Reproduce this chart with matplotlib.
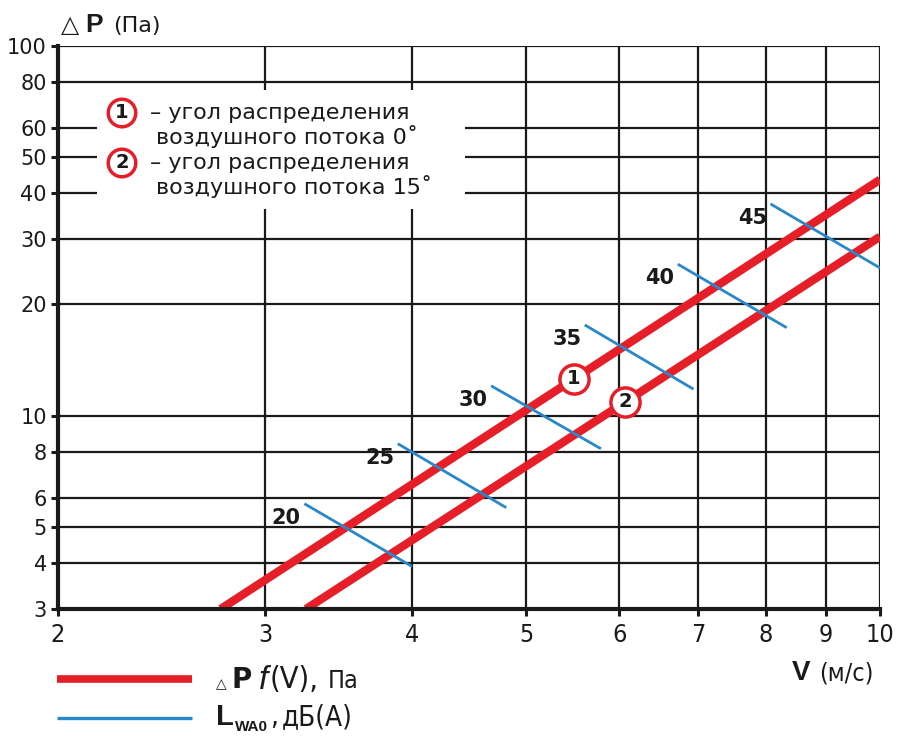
import matplotlib
matplotlib.use("Agg")
import matplotlib.pyplot as plt
from matplotlib import font_manager
from matplotlib.font_manager import FontProperties
from matplotlib.patches import Rectangle
from matplotlib.ticker import FixedLocator, FixedFormatter, NullLocator

# ---------------- data ----------------
x_ticks = [2, 3, 4, 5, 6, 7, 8, 9, 10]
y_ticks = [3, 4, 5, 6, 8, 10, 20, 30, 40, 50, 60, 80, 100]

# pressure drop lines (log-log straight lines)
line1_v = [2.75, 10.0]
line1_dp = [3.0, 43.5]
line2_v = [3.25, 10.0]
line2_dp = [3.0, 30.5]

# noise level segments (dB(A))
noise_levels = [20, 25, 30, 35, 40, 45]
noise_v_start = [3.24, 3.89, 4.67, 5.61, 6.73, 8.07]
noise_v_end = [4.00, 4.81, 5.79, 6.94, 8.33, 10.0]
noise_dp_start = [5.78, 8.40, 12.05, 17.6, 25.7, 37.4]
noise_dp_end = [3.91, 5.64, 8.14, 11.8, 17.3, 25.1]

# circled curve markers
marker_labels = ["1", "2"]
marker_v = [5.49, 6.07]
marker_dp = [12.6, 10.9]

legend_lines = ["– угол распределения", "воздушного потока 0˚",
                "– угол распределения", "воздушного потока 15˚"]

# ---------------- fonts ----------------
ttf = font_manager.fontManager.ttflist
names = {f.name for f in ttf}


def _is_bold(f):
    w = f.weight
    if isinstance(w, int):
        return w >= 600
    return "bold" in str(w).lower()


def pick_narrow(bold=False):
    for f in ttf:
        if f.name == "Liberation Sans Narrow" and f.style == "normal" and _is_bold(f) == bold:
            return f.fname
    for f in ttf:
        if f.name == "DejaVu Sans" and "condensed" in str(f.stretch) and f.style == "normal" \
                and _is_bold(f) == bold:
            return f.fname
    return None


narrow_path = pick_narrow(False)


def NP(size):
    if narrow_path:
        return FontProperties(fname=narrow_path, size=size)
    return FontProperties(family="DejaVu Sans", size=size)


sans = "Liberation Sans" if "Liberation Sans" in names else "DejaVu Sans"
HELV = [sans, "DejaVu Sans"]
DJ = ["DejaVu Sans"]

RED = "#e61e28"
BLUE = "#2a87c9"
BLACK = "#1a1a1a"

W, H = 900, 751
fig = plt.figure(figsize=(9, 7.51), dpi=100)
ax = fig.add_axes([58 / W, 1 - 609 / H, (880 - 58) / W, (609 - 46) / H])
ax.set_xscale("log")
ax.set_yscale("log")
ax.set_xlim(2, 10)
ax.set_ylim(3, 100)

ax.xaxis.set_major_locator(FixedLocator(x_ticks))
ax.xaxis.set_major_formatter(FixedFormatter([str(v) for v in x_ticks]))
ax.xaxis.set_minor_locator(NullLocator())
ax.yaxis.set_major_locator(FixedLocator(y_ticks))
ax.yaxis.set_major_formatter(FixedFormatter([str(v) for v in y_ticks]))
ax.yaxis.set_minor_locator(NullLocator())

for s in ["top", "right"]:
    ax.spines[s].set_visible(False)
for s in ["left", "bottom"]:
    ax.spines[s].set_linewidth(3.0)
    ax.spines[s].set_color(BLACK)
    ax.spines[s].set_zorder(6)

ax.tick_params(axis="both", direction="out", length=5, width=2.2, color=BLACK)
ax.tick_params(axis="x", pad=5)
ax.tick_params(axis="y", pad=3)
for lab in ax.get_xticklabels():
    lab.set_fontproperties(NP(18))
    lab.set_color(BLACK)
for lab in ax.get_yticklabels():
    lab.set_fontfamily(DJ)
    lab.set_fontsize(15)
    lab.set_color(BLACK)

# grid
for xv in x_ticks[1:]:
    ax.axvline(xv, color=BLACK, lw=1.6, zorder=1)
for yv in y_ticks[1:]:
    ax.axhline(yv, color=BLACK, lw=1.6, zorder=1)

# white legend box inside plot
ax.add_patch(Rectangle(((97 - 58) / 822, (609 - 209) / 563), (465 - 97) / 822,
                       (209 - 90) / 563, transform=ax.transAxes,
                       facecolor="white", edgecolor="none", zorder=2))

# red lines
ax.plot(line1_v, line1_dp, color=RED, lw=6.0, solid_capstyle="butt", zorder=3)
ax.plot(line2_v, line2_dp, color=RED, lw=6.0, solid_capstyle="butt", zorder=3)

# blue noise segments
for lvl, v0, v1, p0, p1 in zip(noise_levels, noise_v_start, noise_v_end,
                               noise_dp_start, noise_dp_end):
    ax.plot([v0, v1], [p0, p1], color=BLUE, lw=2.0, solid_capstyle="butt", zorder=4)
    ax.annotate(str(lvl), xy=(v0, p0), xytext=(-13, -10), textcoords="offset points",
                ha="center", va="center", fontsize=15, fontweight="bold",
                family=DJ, color=BLACK, zorder=5)

# circled markers on curves
for lab, v, p in zip(marker_labels, marker_v, marker_dp):
    ax.plot([v], [p], marker="o", markersize=21, markerfacecolor="white",
            markeredgecolor=RED, markeredgewidth=2.5, zorder=5)
    ax.text(v, p, lab, ha="center", va="center", fontsize=14, fontweight="bold",
            family=DJ, color=BLACK, zorder=6)


def fx(px):
    return px / W


def fy(py):
    return 1 - py / H


# legend inside plot (circles + text)
for i, py in enumerate([113, 163]):
    fig.text(fx(122), fy(py), marker_labels[i], ha="center", va="center",
             fontsize=14, fontweight="bold", family=DJ, color=BLACK, zorder=11,
             bbox=dict(boxstyle="circle,pad=0.22", facecolor="white",
                       edgecolor=RED, linewidth=2.5))
text_y = [113, 137, 163, 187]
text_x = [150, 156, 150, 156]
for t, xx, yy in zip(legend_lines, text_x, text_y):
    fig.text(fx(xx), fy(yy), t, ha="left", va="center", fontsize=16,
             family=DJ, color=BLACK, zorder=11)

renderer = fig.canvas.get_renderer()


def chain(pieces, x0, base):
    """pieces: (text, kwargs, dy_px, gap_after_px)"""
    x = x0
    for txt, kw, dy, gap in pieces:
        t = fig.text(fx(x), fy(base + dy), txt, ha="left", va="baseline",
                     color=BLACK, **kw)
        ext = t.get_window_extent(renderer)
        x = ext.x1 + gap


# axis titles
chain([("△", dict(fontsize=17, family=DJ), 0, 6),
       ("P", dict(fontsize=19, fontweight="bold", family=HELV), 0, 10),
       ("(Па)", dict(fontsize=16, family=DJ), 0, 0)], 61, 32)

chain([("V", dict(fontsize=20, fontweight="bold", family=HELV), 0, 9),
       ("(м/с)", dict(fontproperties=NP(18)), 0, 0)], 792, 680)

# bottom legend
fig.add_artist(plt.Line2D([fx(57), fx(192)], [fy(679), fy(679)], color=RED, lw=5.5,
                          transform=fig.transFigure, solid_capstyle="butt"))
fig.add_artist(plt.Line2D([fx(57), fx(192)], [fy(718), fy(718)], color=BLUE, lw=2.4,
                          transform=fig.transFigure, solid_capstyle="butt"))
chain([("△", dict(fontsize=10, family=DJ), 0, 5),
       ("P", dict(fontsize=20, fontweight="bold", family=DJ), 0, 7),
       ("f", dict(fontsize=24, style="italic", family=HELV), 1, 2),
       ("(V),", dict(fontproperties=NP(22)), 0, 9),
       ("Па", dict(fontproperties=NP(18)), 0, 0)], 216, 688)

chain([("L", dict(fontsize=21, fontweight="bold", family=HELV), 0, 1),
       ("WA0", dict(fontsize=11, fontweight="bold", family=HELV), 6, 2),
       (",", dict(fontproperties=NP(20)), 0, 4),
       ("дБ(А)", dict(fontproperties=NP(20)), 0, 0)], 216, 725)

fig.savefig("out.png", dpi=100, facecolor="white")
